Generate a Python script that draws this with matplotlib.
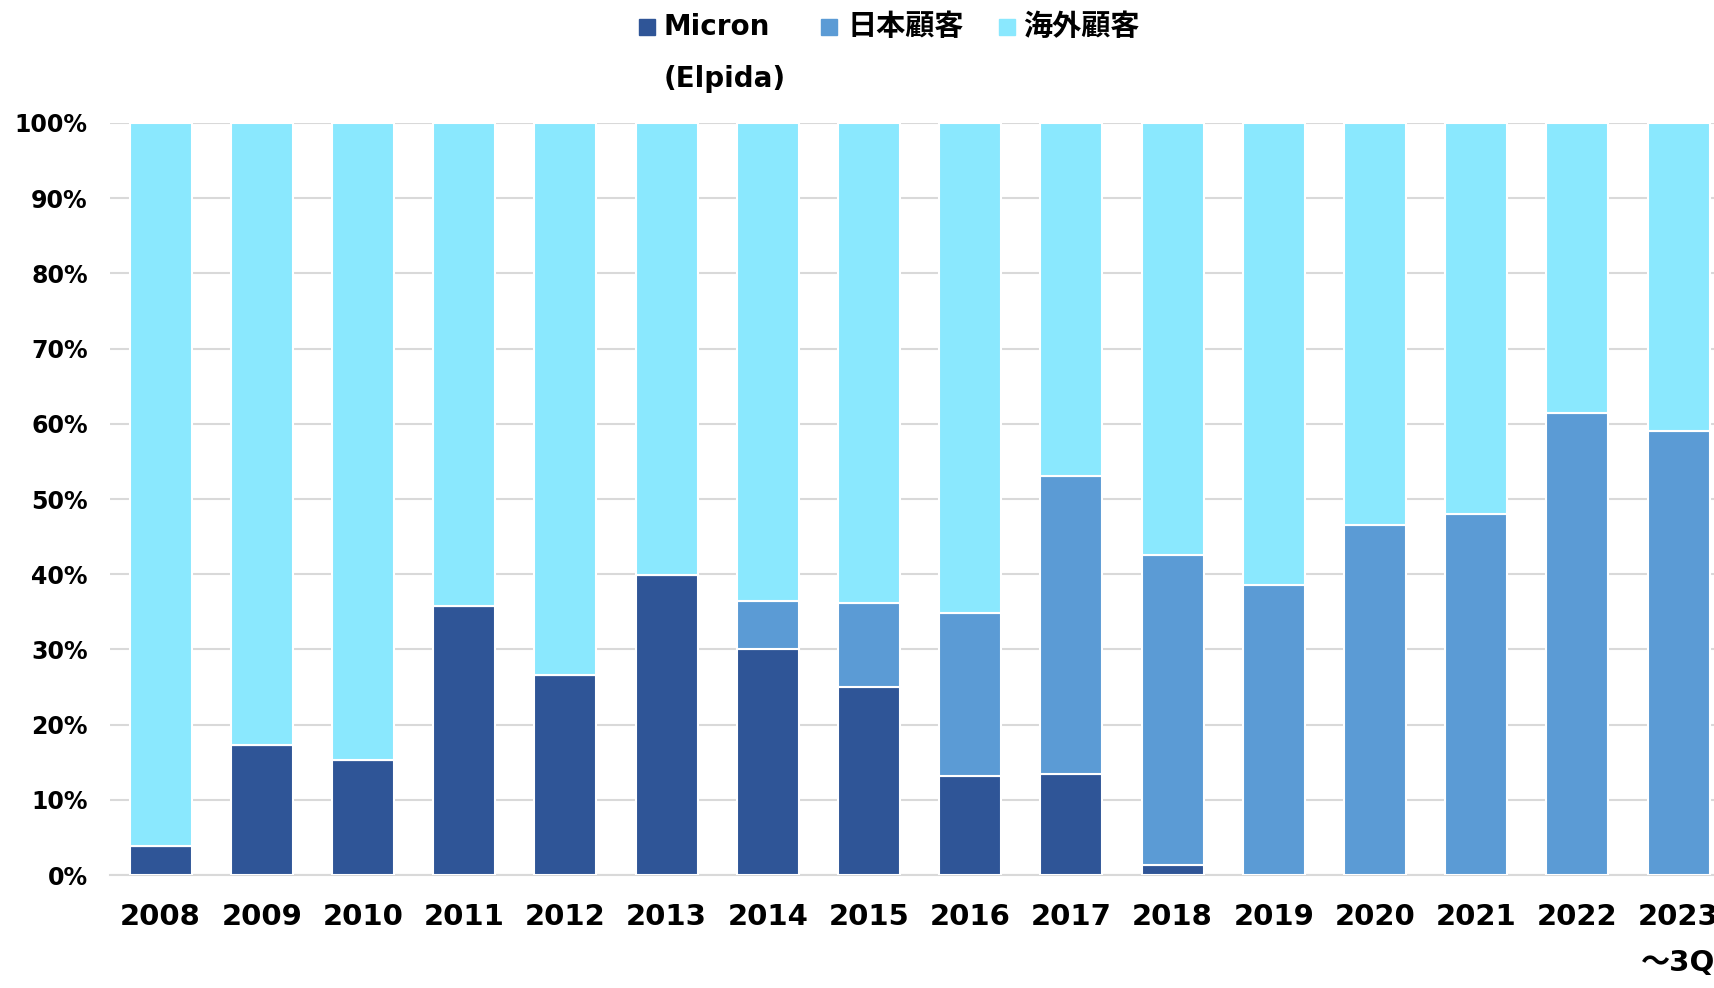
import matplotlib
matplotlib.use("Agg")
import matplotlib.pyplot as plt
from matplotlib.patches import Rectangle
import numpy as np

plt.rcParams['font.family'] = ['DejaVu Sans', 'Noto Sans CJK JP']
plt.rcParams['font.weight'] = 'bold'

years = ['2008', '2009', '2010', '2011', '2012', '2013', '2014', '2015',
         '2016', '2017', '2018', '2019', '2020', '2021', '2022', '2023\n～3Q']
micron = [3.8, 17.3, 15.3, 35.8, 26.6, 39.9, 30.0, 25.0,
          13.2, 13.4, 1.3, 0, 0, 0, 0, 0]
japan = [0, 0, 0, 0, 0, 0, 6.5, 11.2,
         21.7, 39.7, 41.3, 38.6, 46.6, 48.0, 61.4, 59.0]
overseas = [100 - m - j for m, j in zip(micron, japan)]

labels = ['Micron\n(Elpida)', '日本顧客', '海外顧客']
colors = ['#2F5597', '#5B9BD5', '#8AE8FE']

W, H = 1715, 988
fig = plt.figure(figsize=(W / 100, H / 100), dpi=100)
ax = fig.add_axes([110 / W, 1 - 875 / H, 1 - 110 / W, (875 - 123) / H])

x = np.arange(len(years))
w = 0.613
bottom = np.zeros(len(years))
for vals, lab, c in zip([micron, japan, overseas], labels, colors):
    ax.bar(x, vals, w, bottom=bottom, color=c, edgecolor='white',
           linewidth=1.5, label=lab, zorder=3)
    bottom += np.array(vals)

ax.set_xlim(-0.5, 15.36)
ax.set_ylim(0, 100)
ax.set_yticks(np.arange(0, 101, 10))
ax.set_yticklabels([f'{v}%' for v in range(0, 101, 10)], fontsize=17, fontweight='bold')
ax.set_xticks(x)
ax.set_xticklabels(years, fontsize=21, fontweight='bold')
for t in ax.get_xticklabels():
    t.set_linespacing(1.85)
ax.tick_params(axis='y', length=0, pad=16)
ax.tick_params(axis='x', length=0, pad=20)
ax.grid(axis='y', color='#D9D9D9', linewidth=1.5, zorder=0)
for s in ['top', 'right', 'left']:
    ax.spines[s].set_visible(False)
ax.spines['bottom'].set_color('#D9D9D9')
ax.spines['bottom'].set_linewidth(1.5)

# legend drawn by hand: marker square aligned with the first text line
leg_x = [639, 821, 999]
text_x = [664, 848, 1023]
sizes = [20, 21, 21]
for mx, tx, fs, lab, c in zip(leg_x, text_x, sizes, labels, colors):
    fig.patches.append(Rectangle((mx / W, 1 - 35 / H), 16 / W, 16 / H,
                                 transform=fig.transFigure, color=c))
    first, *rest = lab.split('\n')
    fig.text(tx / W, 1 - 27 / H, first, fontsize=fs, fontweight='bold', va='center')
    for i, line in enumerate(rest):
        fig.text(tx / W, 1 - (79 + 52 * i) / H, line, fontsize=fs,
                 fontweight='bold', va='center')

fig.savefig('out.png', dpi=100)
